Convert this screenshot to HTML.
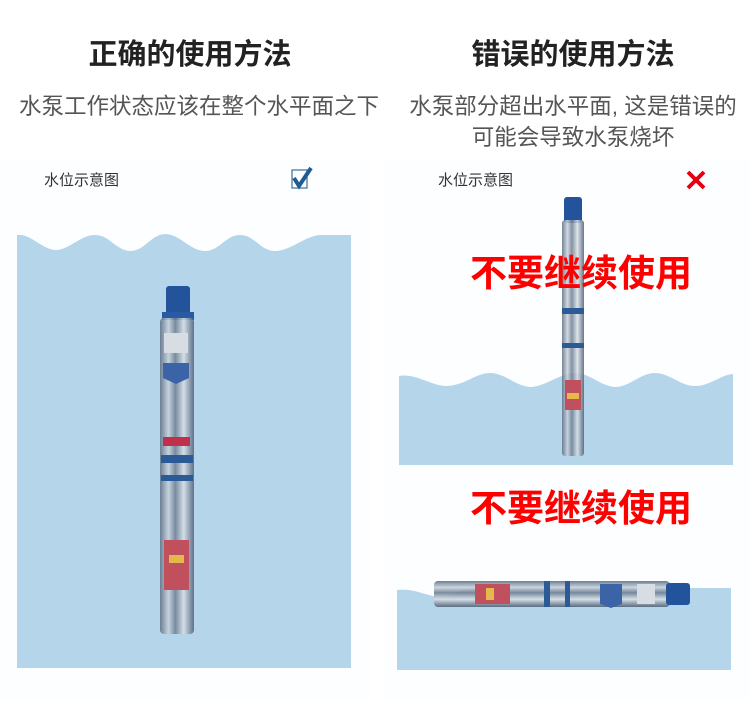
<!DOCTYPE html>
<html><head><meta charset="utf-8"><style>
body{margin:0;background:#fff;}
svg{display:block}
text{font-family:"Liberation Sans","Noto Sans CJK SC",sans-serif}
</style></head><body>
<svg width="750" height="713" viewBox="0 0 750 713" xmlns="http://www.w3.org/2000/svg">
<defs>
<linearGradient id="mv" x1="0" x2="1" y1="0" y2="0">
<stop offset="0" stop-color="#5d6f84"/><stop offset="0.25" stop-color="#c9d2dc"/><stop offset="0.45" stop-color="#6e7f92"/><stop offset="0.7" stop-color="#d8dfe6"/><stop offset="1" stop-color="#4f6075"/>
</linearGradient>
<linearGradient id="mh" x1="0" x2="0" y1="0" y2="1">
<stop offset="0" stop-color="#5d6f84"/><stop offset="0.25" stop-color="#c9d2dc"/><stop offset="0.45" stop-color="#6e7f92"/><stop offset="0.7" stop-color="#d8dfe6"/><stop offset="1" stop-color="#4f6075"/>
</linearGradient>
</defs>
<rect x="0" y="160" width="372" height="540" fill="#fdfeff"/>
<rect x="385" y="160" width="365" height="540" fill="#fdfeff"/>
<text x="190" y="64" font-size="29" font-weight="bold" text-anchor="middle" fill="#222">正确的使用方法</text>
<text x="573" y="64" font-size="29" font-weight="bold" text-anchor="middle" fill="#222">错误的使用方法</text>
<text x="199" y="114" font-size="22.5" text-anchor="middle" fill="#555">水泵工作状态应该在整个水平面之下</text>
<text x="573" y="114" font-size="22.5" text-anchor="middle" fill="#555">水泵部分超出水平面, 这是错误的</text>
<text x="573" y="145" font-size="22.5" text-anchor="middle" fill="#555">可能会导致水泵烧坏</text>
<text x="44" y="185" font-size="15" fill="#333">水位示意图</text>
<text x="438" y="185" font-size="15" fill="#333">水位示意图</text>
<rect x="292" y="170" width="15" height="18" fill="#fff" stroke="#3b6e9c" stroke-width="1.2"/>
<path d="M294 178 L299 186 L311 168" fill="none" stroke="#1f5c91" stroke-width="4"/>
<path d="M688 172 L704 188 M704 172 L688 188" stroke="#e60012" stroke-width="4"/>
<path d="M17 235 C30 233,40 248,55 250 C70 250,80 235,95 235 C110 235,115 250,130 251 C145 251,150 235,165 234 C180 234,190 251,205 251 C220 251,225 235,240 235 C255 235,260 251,275 251 C290 251,305 236,320 235 L351 235 L351 668 L17 668 Z" fill="#b5d5ea"/>
<rect x="166" y="286" width="24" height="30" rx="3" fill="#23549b"/>
<rect x="162" y="312" width="32" height="8" fill="#2a5aa0"/>
<rect x="160" y="318" width="34" height="316" rx="4" fill="url(#mv)" opacity="0.85"/>
<rect x="161" y="455" width="32" height="8" fill="#2b5b96"/>
<rect x="161" y="475" width="32" height="6" fill="#2b5b96"/>
<rect x="164" y="333" width="24" height="20" fill="#d7dde3"/>
<path d="M163 363 h26 v15 l-13 6 l-13 -6z" fill="#3b63a8"/>
<rect x="163" y="437" width="27" height="9" fill="#c0304a"/>
<rect x="164" y="540" width="25" height="50" fill="#c0505e"/>
<rect x="169" y="555" width="15" height="8" fill="#e4b84a"/>
<path d="M399 376 C415 373,430 385,445 386 C465 386,475 373,490 373 C505 373,515 386,530 387 C545 387,560 373,575 373 C590 373,600 386,615 387 C630 387,640 373,655 373 C670 373,680 386,695 386 C710 386,720 375,733 374 L733 465 L399 465 Z" fill="#b5d5ea"/>
<rect x="564" y="197" width="18" height="26" rx="3" fill="#23549b"/>
<rect x="562" y="220" width="22" height="236" rx="3" fill="url(#mv)" opacity="0.85"/>
<rect x="562" y="308" width="22" height="6" fill="#2b5b96"/>
<rect x="562" y="343" width="22" height="5" fill="#2b5b96"/>
<rect x="565" y="380" width="16" height="30" fill="#c0505e"/>
<rect x="567" y="393" width="12" height="6" fill="#e4b84a"/>
<path d="M397 590 C415 588,425 596,440 597 C455 597,460 588,475 588 L731 588 L731 670 L397 670 Z" fill="#b5d5ea"/>
<rect x="434" y="581" width="236" height="26" rx="4" fill="url(#mh)" opacity="0.9"/>
<rect x="666" y="583" width="24" height="22" rx="3" fill="#23549b"/>
<rect x="544" y="581" width="6" height="26" fill="#2b5b96"/>
<rect x="565" y="581" width="5" height="26" fill="#2b5b96"/>
<rect x="475" y="584" width="35" height="20" fill="#c0505e"/>
<rect x="486" y="588" width="8" height="12" fill="#e4b84a"/>
<path d="M600 584 h22 v20 l-11 4 l-11 -4z" fill="#3b63a8"/>
<rect x="637" y="584" width="18" height="20" fill="#d7dde3"/>
<text x="581" y="286" font-size="37" font-weight="bold" text-anchor="middle" fill="#ff0000">不要继续使用</text>
<text x="581" y="521" font-size="37" font-weight="bold" text-anchor="middle" fill="#ff0000">不要继续使用</text>
</svg>
</body></html>
